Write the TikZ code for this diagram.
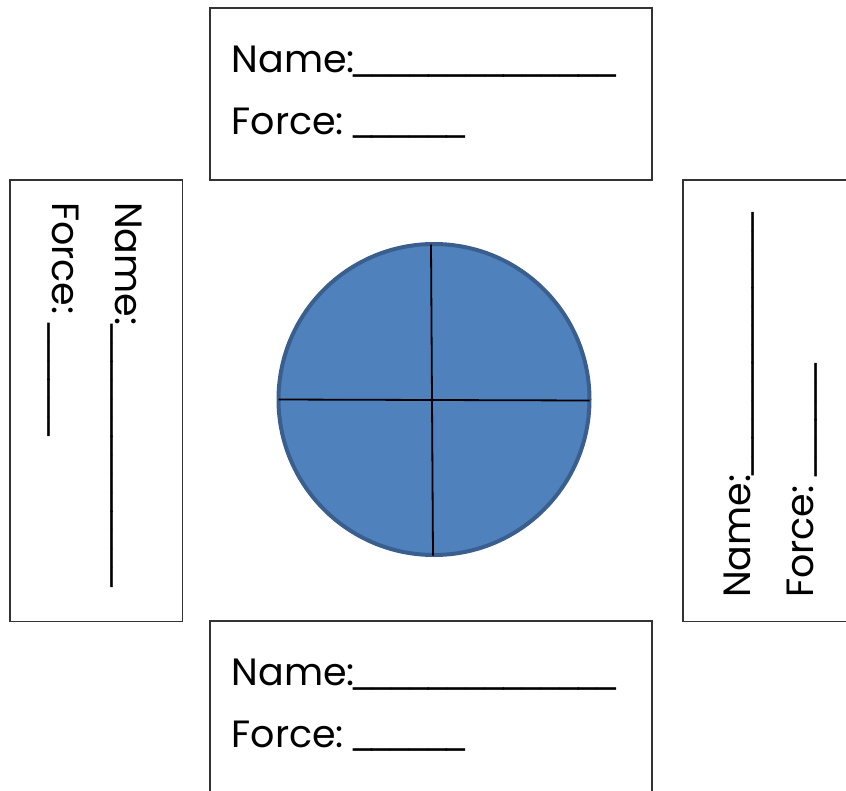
\documentclass[tikz,border=0pt]{standalone}
\usepackage{fontspec}
\setmainfont{Poppins}
\newfontfamily\blankfont{DejaVu Sans}
\newcommand\blankline[1]{{\blankfont\fontsize{37.5}{45}\selectfont\raisebox{4.4pt}{#1}}}
\definecolor{discfill}{HTML}{4F81BD}
\definecolor{discedge}{HTML}{3A5F8E}
\begin{document}
\begin{tikzpicture}[x=1pt,y=-1pt,
  card/.style={draw=black!80,line width=1.2pt},
  lbl/.style={inner sep=0pt,anchor=base west,font=\fontsize{38}{46}\selectfont},
  cross/.style={draw=black,line width=1.8pt}]
\useasboundingbox (0,0) rectangle (846,790);
\clip (0,0) rectangle (846,790);
% cards
\draw[card] (210,8) rectangle (652,180);
\draw[card] (10,180) rectangle (182.5,621.5);
\draw[card] (683,180) rectangle (860,621.5);
\draw[card] (210,621) rectangle (652,800);
% texts
\node[lbl] (tn) at (231.5,72.7) {Name:\kern-1pt\blankline{\_\_\_\_\_\_\_\_\_\_\_\_\_\_}};
\node[lbl] (tf) at (231.5,134) {Force: \kern-4.5pt\blankline{\_\_\_\_\_\_}};
\node[lbl] (bn) at (231.5,685.7) {Name:\kern-1pt\blankline{\_\_\_\_\_\_\_\_\_\_\_\_\_\_}};
\node[lbl] (bf) at (231.5,747) {Force: \kern-4.5pt\blankline{\_\_\_\_\_\_}};
\node[lbl,rotate=-90] (ln) at (115,202) {Name:\kern-1pt\blankline{\_\_\_\_\_\_\_\_\_\_\_\_\_\_}};
\node[lbl,rotate=-90] (lf) at (52,202) {Force: \kern-4.5pt\blankline{\_\_\_\_\_\_}};
\node[lbl,rotate=90] (rn) at (750,598) {Name:\kern-1pt\blankline{\_\_\_\_\_\_\_\_\_\_\_\_\_\_}};
\node[lbl,rotate=90] (rf) at (813,598) {Force: \kern-4.5pt\blankline{\_\_\_\_\_\_}};
% disc
\node[circle,draw=discedge,fill=discfill,line width=4pt,minimum size=311pt,inner sep=0pt] (disc) at (434,399.5) {};
\coordinate (vt) at (431,244.5);
\coordinate (vb) at (433,555.5);
\coordinate (hl) at (278.5,399.5);
\coordinate (hr) at (589.5,400.5);
\draw[cross] (vt) -- (vb);
\draw[cross] (hl) -- (hr);
\end{tikzpicture}
\end{document}
